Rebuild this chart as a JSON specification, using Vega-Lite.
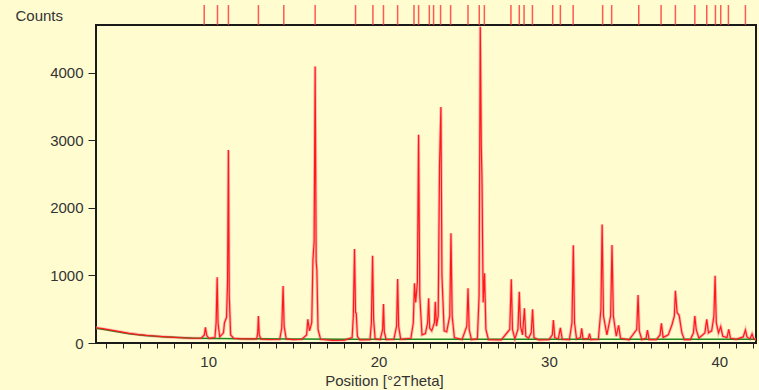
{
  "$schema": "https://vega.github.io/schema/vega-lite/v6.json",
  "width": 660,
  "height": 318,
  "autosize": {"type": "none"},
  "padding": {"left": 96, "top": 25, "right": 3, "bottom": 47},
  "background": "#fffcd0",
  "config": {
    "view": {"stroke": "#1a1a1a", "strokeWidth": 2, "fill": "#fffcd0"},
    "font": "Liberation Sans"
  },
  "datasets": {
    "bg": [
      {"theta": 3.42, "counts": 220}, {"theta": 4.0, "counts": 195}, {"theta": 5.0, "counts": 150},
      {"theta": 5.36, "counts": 135}, {"theta": 6.3, "counts": 110}, {"theta": 7.3, "counts": 92},
      {"theta": 8.3, "counts": 80}, {"theta": 9.2, "counts": 72}, {"theta": 10.5, "counts": 66},
      {"theta": 12.1, "counts": 62}, {"theta": 15.0, "counts": 58}, {"theta": 18.0, "counts": 55},
      {"theta": 21.0, "counts": 55}, {"theta": 24.0, "counts": 55}, {"theta": 27.0, "counts": 55},
      {"theta": 30.0, "counts": 55}, {"theta": 33.0, "counts": 55}, {"theta": 36.0, "counts": 55},
      {"theta": 39.0, "counts": 55}, {"theta": 42.15, "counts": 55}
    ],
    "ref": [
      {"theta": 9.77}, {"theta": 10.55}, {"theta": 11.19}, {"theta": 12.95}, {"theta": 14.44},
      {"theta": 16.28}, {"theta": 18.65}, {"theta": 19.67}, {"theta": 20.29}, {"theta": 21.12},
      {"theta": 22.08}, {"theta": 22.35}, {"theta": 22.98}, {"theta": 23.23}, {"theta": 23.64},
      {"theta": 24.23}, {"theta": 25.25}, {"theta": 25.91}, {"theta": 26.21}, {"theta": 27.77},
      {"theta": 28.26}, {"theta": 28.54}, {"theta": 29.03}, {"theta": 30.22}, {"theta": 30.67},
      {"theta": 31.42}, {"theta": 33.15}, {"theta": 33.68}, {"theta": 35.27}, {"theta": 36.58},
      {"theta": 37.42}, {"theta": 38.56}, {"theta": 39.26}, {"theta": 39.77}, {"theta": 40.08},
      {"theta": 40.53}, {"theta": 41.53}
    ],
    "obs": [
      {"theta": 3.42, "counts": 226}, {"theta": 3.8, "counts": 212}, {"theta": 4.3, "counts": 190},
      {"theta": 4.8, "counts": 168}, {"theta": 5.36, "counts": 143}, {"theta": 5.9, "counts": 125},
      {"theta": 6.4, "counts": 112}, {"theta": 7.0, "counts": 100}, {"theta": 7.34, "counts": 93},
      {"theta": 7.8, "counts": 86}, {"theta": 8.4, "counts": 78}, {"theta": 9.1, "counts": 70},
      {"theta": 9.6, "counts": 72}, {"theta": 9.78, "counts": 120}, {"theta": 9.84, "counts": 230},
      {"theta": 9.92, "counts": 110}, {"theta": 10.05, "counts": 68}, {"theta": 10.4, "counts": 80},
      {"theta": 10.47, "counts": 300}, {"theta": 10.53, "counts": 972}, {"theta": 10.58, "counts": 300},
      {"theta": 10.68, "counts": 90}, {"theta": 10.9, "counts": 150}, {"theta": 10.96, "counts": 300},
      {"theta": 11.08, "counts": 380}, {"theta": 11.14, "counts": 900}, {"theta": 11.19, "counts": 2855},
      {"theta": 11.24, "counts": 700}, {"theta": 11.32, "counts": 120}, {"theta": 11.5, "counts": 70},
      {"theta": 11.9, "counts": 62}, {"theta": 12.5, "counts": 60}, {"theta": 12.85, "counts": 62},
      {"theta": 12.91, "counts": 150}, {"theta": 12.95, "counts": 400}, {"theta": 13.0, "counts": 120},
      {"theta": 13.1, "counts": 58}, {"theta": 13.6, "counts": 52}, {"theta": 14.2, "counts": 55},
      {"theta": 14.32, "counts": 220}, {"theta": 14.4, "counts": 843}, {"theta": 14.46, "counts": 250},
      {"theta": 14.58, "counts": 60}, {"theta": 15.0, "counts": 50}, {"theta": 15.5, "counts": 55},
      {"theta": 15.78, "counts": 120}, {"theta": 15.85, "counts": 350}, {"theta": 15.95, "counts": 180},
      {"theta": 16.08, "counts": 300}, {"theta": 16.15, "counts": 1230}, {"theta": 16.22, "counts": 1500},
      {"theta": 16.28, "counts": 4090}, {"theta": 16.34, "counts": 1200}, {"theta": 16.38, "counts": 1080},
      {"theta": 16.45, "counts": 200}, {"theta": 16.6, "counts": 55}, {"theta": 17.3, "counts": 40},
      {"theta": 18.0, "counts": 42}, {"theta": 18.45, "counts": 80}, {"theta": 18.52, "counts": 400},
      {"theta": 18.59, "counts": 1390}, {"theta": 18.65, "counts": 450}, {"theta": 18.69, "counts": 443},
      {"theta": 18.76, "counts": 100}, {"theta": 18.9, "counts": 45}, {"theta": 19.5, "counts": 50},
      {"theta": 19.58, "counts": 300}, {"theta": 19.65, "counts": 1290}, {"theta": 19.71, "counts": 350},
      {"theta": 19.8, "counts": 60}, {"theta": 20.1, "counts": 50}, {"theta": 20.24, "counts": 200},
      {"theta": 20.29, "counts": 577}, {"theta": 20.34, "counts": 160}, {"theta": 20.45, "counts": 50},
      {"theta": 20.9, "counts": 55}, {"theta": 21.06, "counts": 250}, {"theta": 21.12, "counts": 947},
      {"theta": 21.18, "counts": 250}, {"theta": 21.3, "counts": 55}, {"theta": 21.9, "counts": 70},
      {"theta": 22.04, "counts": 300}, {"theta": 22.11, "counts": 883}, {"theta": 22.18, "counts": 600},
      {"theta": 22.28, "counts": 900}, {"theta": 22.35, "counts": 3080}, {"theta": 22.42, "counts": 700},
      {"theta": 22.55, "counts": 120}, {"theta": 22.75, "counts": 140}, {"theta": 22.88, "counts": 300},
      {"theta": 22.94, "counts": 661}, {"theta": 23.0, "counts": 220}, {"theta": 23.12, "counts": 180},
      {"theta": 23.28, "counts": 300}, {"theta": 23.33, "counts": 611}, {"theta": 23.4, "counts": 250},
      {"theta": 23.5, "counts": 400}, {"theta": 23.58, "counts": 2630}, {"theta": 23.66, "counts": 3490},
      {"theta": 23.72, "counts": 1000}, {"theta": 23.85, "counts": 180}, {"theta": 24.0, "counts": 167},
      {"theta": 24.18, "counts": 400}, {"theta": 24.25, "counts": 1623}, {"theta": 24.32, "counts": 400},
      {"theta": 24.45, "counts": 80}, {"theta": 24.9, "counts": 50}, {"theta": 25.18, "counts": 250},
      {"theta": 25.25, "counts": 809}, {"theta": 25.32, "counts": 200}, {"theta": 25.45, "counts": 50},
      {"theta": 25.8, "counts": 60}, {"theta": 25.9, "counts": 700}, {"theta": 25.97, "counts": 4680},
      {"theta": 26.03, "counts": 2900}, {"theta": 26.07, "counts": 2430}, {"theta": 26.14, "counts": 600},
      {"theta": 26.22, "counts": 1030}, {"theta": 26.3, "counts": 200}, {"theta": 26.45, "counts": 50},
      {"theta": 27.2, "counts": 45}, {"theta": 27.7, "counts": 200}, {"theta": 27.79, "counts": 942},
      {"theta": 27.86, "counts": 200}, {"theta": 28.0, "counts": 60}, {"theta": 28.18, "counts": 200},
      {"theta": 28.26, "counts": 759}, {"theta": 28.33, "counts": 250}, {"theta": 28.45, "counts": 120},
      {"theta": 28.56, "counts": 513}, {"theta": 28.64, "counts": 100}, {"theta": 28.8, "counts": 70},
      {"theta": 28.96, "counts": 150}, {"theta": 29.04, "counts": 498}, {"theta": 29.12, "counts": 80},
      {"theta": 29.4, "counts": 45}, {"theta": 30.0, "counts": 50}, {"theta": 30.2, "counts": 120},
      {"theta": 30.26, "counts": 340}, {"theta": 30.34, "counts": 80}, {"theta": 30.55, "counts": 60},
      {"theta": 30.67, "counts": 225}, {"theta": 30.78, "counts": 55}, {"theta": 31.2, "counts": 50},
      {"theta": 31.35, "counts": 300}, {"theta": 31.43, "counts": 1445}, {"theta": 31.5, "counts": 300},
      {"theta": 31.62, "counts": 60}, {"theta": 31.85, "counts": 80}, {"theta": 31.92, "counts": 217},
      {"theta": 32.0, "counts": 60}, {"theta": 32.3, "counts": 60}, {"theta": 32.38, "counts": 140},
      {"theta": 32.46, "counts": 50}, {"theta": 32.9, "counts": 55}, {"theta": 33.05, "counts": 500},
      {"theta": 33.12, "counts": 1753}, {"theta": 33.2, "counts": 400}, {"theta": 33.4, "counts": 120},
      {"theta": 33.62, "counts": 400}, {"theta": 33.7, "counts": 1450}, {"theta": 33.78, "counts": 400},
      {"theta": 33.95, "counts": 100}, {"theta": 34.09, "counts": 260}, {"theta": 34.2, "counts": 70},
      {"theta": 34.7, "counts": 45}, {"theta": 35.15, "counts": 200}, {"theta": 35.23, "counts": 710},
      {"theta": 35.3, "counts": 180}, {"theta": 35.45, "counts": 50}, {"theta": 35.7, "counts": 70},
      {"theta": 35.78, "counts": 190}, {"theta": 35.88, "counts": 50}, {"theta": 36.3, "counts": 50},
      {"theta": 36.52, "counts": 120}, {"theta": 36.6, "counts": 291}, {"theta": 36.7, "counts": 80},
      {"theta": 37.0, "counts": 120}, {"theta": 37.22, "counts": 270}, {"theta": 37.36, "counts": 400},
      {"theta": 37.42, "counts": 774}, {"theta": 37.52, "counts": 450}, {"theta": 37.64, "counts": 410},
      {"theta": 37.8, "counts": 150}, {"theta": 37.95, "counts": 50}, {"theta": 38.3, "counts": 50},
      {"theta": 38.48, "counts": 150}, {"theta": 38.56, "counts": 400}, {"theta": 38.64, "counts": 200},
      {"theta": 38.8, "counts": 70}, {"theta": 39.15, "counts": 150}, {"theta": 39.26, "counts": 350},
      {"theta": 39.36, "counts": 150}, {"theta": 39.55, "counts": 180}, {"theta": 39.68, "counts": 400},
      {"theta": 39.75, "counts": 996}, {"theta": 39.82, "counts": 300}, {"theta": 39.95, "counts": 150},
      {"theta": 40.08, "counts": 240}, {"theta": 40.2, "counts": 100}, {"theta": 40.45, "counts": 80},
      {"theta": 40.55, "counts": 202}, {"theta": 40.65, "counts": 70}, {"theta": 41.0, "counts": 55},
      {"theta": 41.4, "counts": 90}, {"theta": 41.53, "counts": 192}, {"theta": 41.62, "counts": 90},
      {"theta": 41.8, "counts": 60}, {"theta": 41.92, "counts": 133}, {"theta": 42.02, "counts": 60},
      {"theta": 42.15, "counts": 55}
    ]
  },
  "layer": [
    {
      "data": {"name": "obs"},
      "mark": {"type": "line", "color": "#ff9a9a", "strokeWidth": 3, "opacity": 0.7, "clip": true},
      "encoding": {
        "x": {
          "field": "theta", "type": "quantitative",
          "scale": {"domain": [3.42, 42.15], "nice": false, "zero": false},
          "axis": {
            "title": "Position [°2Theta]",
            "values": [4, 5, 6, 7, 8, 9, 10, 11, 12, 13, 14, 15, 16, 17, 18, 19, 20, 21, 22, 23, 24, 25, 26, 27, 28, 29, 30, 31, 32, 33, 34, 35, 36, 37, 38, 39, 40, 41, 42],
            "tickCount": 100,
            "labelExpr": "datum.value % 10 == 0 ? datum.value : ''",
            "labelOverlap": false, "labelFlush": false,
            "grid": false, "domain": false,
            "tickSize": 5, "tickColor": "#222", "tickWidth": 1,
            "labelPadding": 6, "labelFontSize": 15, "labelColor": "#333",
            "labelFont": "Liberation Sans",
            "titleFontSize": 15, "titleFontWeight": "normal", "titleColor": "#333",
            "titleFont": "Liberation Sans",
            "titleX": 288, "titleY": 42, "titleAlign": "center", "titleBaseline": "alphabetic"
          }
        },
        "y": {
          "field": "counts", "type": "quantitative",
          "scale": {"domain": [0, 4705], "nice": false},
          "axis": {
            "title": "Counts",
            "values": [0, 1000, 2000, 3000, 4000],
            "tickCount": 20,
            "format": "d",
            "labelOverlap": false, "labelFlush": false,
            "grid": false, "domain": false,
            "tickSize": 8, "tickColor": "#222", "tickWidth": 1,
            "labelPadding": 5, "labelFontSize": 15, "labelColor": "#333",
            "labelFont": "Liberation Sans",
            "titleFontSize": 15, "titleFontWeight": "normal", "titleColor": "#333",
            "titleFont": "Liberation Sans",
            "titleAngle": 0, "titleX": -81, "titleY": -10, "titleAlign": "left", "titleBaseline": "middle"
          }
        }
      }
    },
    {
      "data": {"name": "bg"},
      "mark": {"type": "line", "color": "#1f8a1f", "strokeWidth": 1.5, "clip": true},
      "encoding": {
        "x": {"field": "theta", "type": "quantitative"},
        "y": {"field": "counts", "type": "quantitative"}
      }
    },
    {
      "data": {"name": "obs"},
      "mark": {"type": "line", "color": "#ff1a1a", "strokeWidth": 1.2, "clip": true},
      "encoding": {
        "x": {"field": "theta", "type": "quantitative"},
        "y": {"field": "counts", "type": "quantitative"}
      }
    },
    {
      "data": {"name": "ref"},
      "mark": {"type": "rule", "color": "#ff3030", "strokeWidth": 1.5, "opacity": 0.8},
      "encoding": {
        "x": {"field": "theta", "type": "quantitative"},
        "y": {"datum": 4705, "type": "quantitative"},
        "y2": {"datum": 5000}
      }
    }
  ]
}
